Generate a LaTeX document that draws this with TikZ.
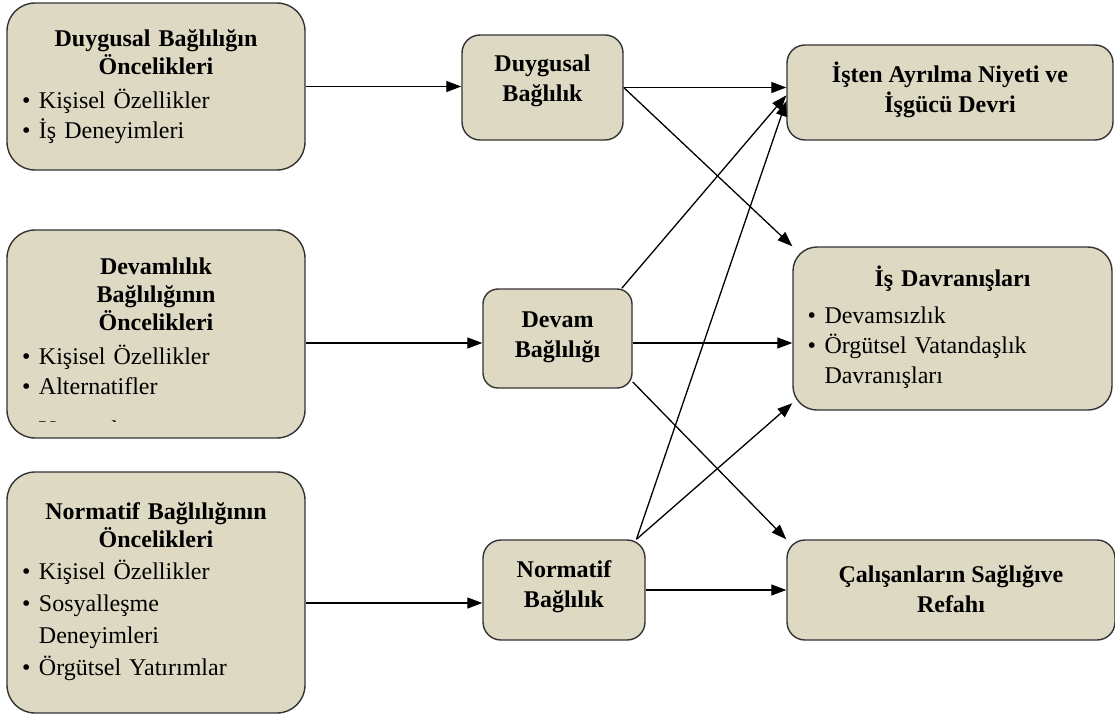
\documentclass[tikz,border=0pt]{standalone}
\usepackage{fontspec}
\setmainfont{Liberation Serif}
\usetikzlibrary{arrows.meta,positioning,calc}
\definecolor{Tan}{HTML}{DDD9C3}
\definecolor{Edge}{HTML}{333333}
\newcommand{\blt}[1]{\makebox[17pt][l]{\textbullet}#1}

\begin{document}
\begin{tikzpicture}[
  x=1pt,y=1pt,
  every node/.style={font=\fontsize{24}{30}\selectfont},
  box/.style={draw=Edge,line width=1.4pt,fill=Tan,rounded corners=18pt,inner sep=0pt},
  bigbox/.style={box,rounded corners=28pt,minimum width=298pt},
  lbl/.style={inner sep=0pt,align=center,font=\fontsize{24}{30}\selectfont\bfseries},
  lst/.style={inner sep=0pt,align=left},
  arr/.style={-{Triangle[length=15pt,width=11pt]},line width=1.3pt}
]
\useasboundingbox (0,0) rectangle (1115,-717);
% antecedents
\node[bigbox,minimum height=167pt] (duyOnc) at (156,-86.5) {};
\node[bigbox,minimum height=208pt] (devOnc) at (156,-334) {};
\node[bigbox,minimum height=241pt] (norOnc) at (156,-592.5) {};
% commitment types
\node[box,minimum width=161pt,minimum height=105pt] (duyBag) at (542.5,-87.5) {};
\node[box,rounded corners=15pt,minimum width=149pt,minimum height=99pt] (devBag) at (557.5,-338.5) {};
\node[box,minimum width=162pt,minimum height=100pt] (norBag) at (564,-590) {};
% outcomes
\node[box,minimum width=326pt,minimum height=95pt] (ayrilma) at (950,-92.5) {};
\node[box,rounded corners=24pt,minimum width=319pt,minimum height=163pt] (davranis) at (952.5,-328.5) {};
\node[box,minimum width=328pt,minimum height=100pt] (saglik) at (951,-590) {};

\node[lst,text width=268pt,below=27.5pt of duyOnc.north] (duyOncTxt)
  {{\bfseries\centering\fontsize{24}{28}\selectfont Duygusal Bağlılığın\\Öncelikleri\par}\vspace{4pt}
   \blt{Kişisel Özellikler}\\\blt{İş Deneyimleri}};
\begin{scope}
\clip ($(devOnc.south west)+(0,17)$) rectangle (devOnc.north east);
\node[lst,text width=268pt,below=28.5pt of devOnc.north] (devOncTxt)
  {{\bfseries\centering\fontsize{24}{28}\selectfont Devamlılık\\Bağlılığının\\Öncelikleri\par}\vspace{4pt}
   \blt{Kişisel Özellikler}\\\blt{Alternatifler}\\[13pt]\blt{Yatırımlar}};
\end{scope}
\node[lst,text width=268pt,below=31.5pt of norOnc.north,font=\fontsize{24}{32}\selectfont] (norOncTxt)
  {{\bfseries\centering\fontsize{24}{28}\selectfont Normatif Bağlılığının\\Öncelikleri\par}
   \blt{Kişisel Özellikler}\\\blt{Sosyalleşme}\\\hspace*{17pt}Deneyimleri\\\blt{Örgütsel Yatırımlar}};

\node[lbl,below=20.7pt of duyBag.north] (duyBagTxt) {Duygusal\\Bağlılık};
\node[lbl,below=22.8pt of devBag.north] (devBagTxt) {Devam\\Bağlılığı};
\node[lbl,below=21.5pt of norBag.north] (norBagTxt) {Normatif\\Bağlılık};

\node[lbl,below=17pt of ayrilma.north] (ayrilmaTxt) {İşten Ayrılma Niyeti ve\\İşgücü Devri};
\node[lst,text width=290pt,below=19pt of davranis.north] (davranisTxt)
  {{\bfseries\centering İş Davranışları\par}\vspace{7pt}
   \blt{Devamsızlık}\\\blt{Örgütsel Vatandaşlık}\\\hspace*{17pt}Davranışları};
\node[lbl,below=26.5pt of saglik.north] (saglikTxt) {Çalışanların Sağlığıve\\Refahı};

% connectors
\coordinate (devIn) at ([yshift=-4.5pt]devBag.west);
\coordinate (norIn) at ([yshift=-13pt]norBag.west);
\draw[arr] (duyOnc.east) -- (duyOnc.east -| duyBag.west);
\draw[arr] (devIn -| devOnc.east) -- (devIn);
\draw[arr] (norIn -| norOnc.east) -- (norIn);
\draw[arr] (duyBag.east) -- (duyBag.east -| ayrilma.west);
\draw[arr] (duyBag.east) -- (davranis.north west);
\draw[arr] (devBag.38) -- (ayrilma.181);
\draw[arr] (norBag.35) -- (ayrilma.183);
\draw[arr] (devIn -| devBag.east) -- (devIn -| davranis.west);
\draw[arr] (devBag.-30) -- (saglik.north west);
\draw[arr] (norBag.35) -- (davranis.205);
\draw[arr] (norBag.east) -- (norBag.east -| saglik.west);
\end{tikzpicture}
\end{document}
